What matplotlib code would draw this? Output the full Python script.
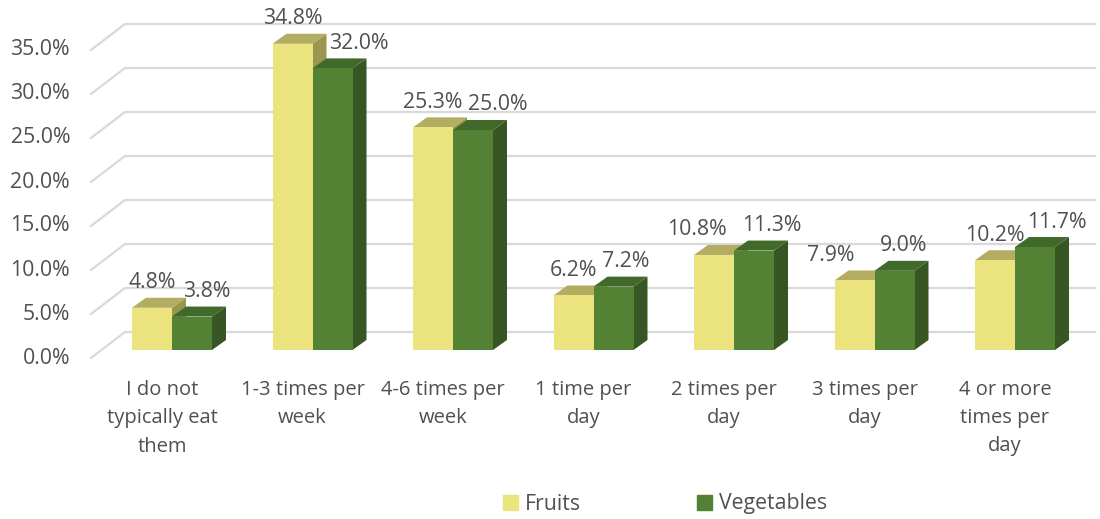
import matplotlib.pyplot as plt
from matplotlib.patches import Polygon, Patch

categories = ["I do not\ntypically eat\nthem", "1-3 times per\nweek", "4-6 times per\nweek",
              "1 time per\nday", "2 times per\nday", "3 times per\nday", "4 or more\ntimes per\nday"]
fruits = [4.8, 34.8, 25.3, 6.2, 10.8, 7.9, 10.2]
vegetables = [3.8, 32.0, 25.0, 7.2, 11.3, 9.0, 11.7]
yticks = [0, 5, 10, 15, 20, 25, 30, 35]

# label nudges (px) that Excel applied to avoid overlaps
fruit_nudge = [0, 0, 0, 0, -17, -24, 0]
veg_nudge = [15, 26, 25, 12, 18, 9, 22]

# pixel geometry of the 3d look
PX_X = 140.5          # px per category
PX_Y = 8.8            # px per percent
W, H = 1100, 519
x0, y0 = 172, 350     # pixel of category 0 centre / bar baseline
bw = 40 / PX_X
ddx, ddy = 14 / PX_X, 10 / PX_Y

fruit_cols = ("#EAE37E", "#B3AD62", "#9A954F")
veg_cols = ("#548235", "#416A2A", "#375623")
grid_col = "#D9D9D9"
txt_col = "#505050"

plt.rcParams["font.family"] = ["Open Sans", "DejaVu Sans"]
fig = plt.figure(figsize=(W / 100, H / 100), dpi=100)
ax = fig.add_axes([0, 0, 1, 1])
ax.set_xlim(-x0 / PX_X, (W - x0) / PX_X)
ax.set_ylim((y0 - H) / PX_Y, y0 / PX_Y)
ax.axis("off")

# gridlines: diagonal from front to back wall, then along back wall
gx_front, gx_back, gx_end = -81 / PX_X, -47 / PX_X, 923 / PX_X
for v in yticks:
    ax.plot([gx_front, gx_back, gx_end], [v - 8 / PX_Y, v + 18 / PX_Y, v + 18 / PX_Y],
            color=grid_col, lw=1.6, zorder=1, solid_joinstyle="miter")
    ax.text(-102 / PX_X, v - 8 / PX_Y, f"{v:.1f}%", ha="right", va="center",
            fontsize=15.3, color=txt_col)


def bar3d(left, h, cols, z):
    front, top, side = cols
    ax.bar(left, h, width=bw, align="edge", color=front, zorder=z + 0.2, linewidth=0)
    ax.add_patch(Polygon([(left, h), (left + ddx, h + ddy), (left + bw + ddx, h + ddy), (left + bw, h)],
                         closed=True, color=top, lw=0, zorder=z + 0.1))
    ax.add_patch(Polygon([(left + bw, 0), (left + bw + ddx, ddy), (left + bw + ddx, h + ddy), (left + bw, h)],
                         closed=True, color=side, lw=0, zorder=z))


for i, (f, g) in enumerate(zip(fruits, vegetables)):
    bar3d(i - bw, f, fruit_cols, 2)
    bar3d(i, g, veg_cols, 3)
    ax.text(i - bw / 2 + fruit_nudge[i] / PX_X, f + 25 / PX_Y, f"{f:.1f}%", ha="center",
            va="center", fontsize=15.3, color=txt_col, zorder=5)
    ax.text(i + bw / 2 + veg_nudge[i] / PX_X, g + 25 / PX_Y, f"{g:.1f}%", ha="center",
            va="center", fontsize=15.3, color=txt_col, zorder=5)
    ax.text(i - 10 / PX_X, -30 / PX_Y, categories[i], ha="center", va="top",
            fontsize=14.5, color=txt_col, linespacing=1.55)

handles = [Patch(color=fruit_cols[0], label="Fruits"), Patch(color=veg_cols[0], label="Vegetables")]
fig.legend(handles=handles, loc="center", bbox_to_anchor=(665 / W, 1 - 504 / H), ncol=2,
           frameon=False, fontsize=15.3, labelcolor=txt_col, handlelength=0.7, handleheight=0.7,
           handletextpad=0.3, columnspacing=5.5)

fig.savefig("out.png", dpi=100)
